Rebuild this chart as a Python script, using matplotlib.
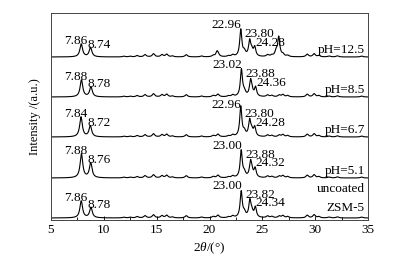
import numpy as np
import matplotlib
matplotlib.use("Agg")
import matplotlib.pyplot as plt
from matplotlib.ticker import MultipleLocator

plt.rcParams['font.family'] = ['Liberation Serif', 'DejaVu Serif']
plt.rcParams['mathtext.fontset'] = 'custom'
plt.rcParams['mathtext.it'] = 'Liberation Serif:italic'
plt.rcParams['mathtext.rm'] = 'Liberation Serif'

# ---- data ----
samples = ["pH=12.5", "pH=8.5", "pH=6.7", "pH=5.1", "ZSM-5"]
offsets = [163, 123, 83, 42, 2]

# labelled main peaks: positions (2theta) and heights (a.u.)
low_pos = [[7.86, 8.74], [7.88, 8.78], [7.84, 8.72], [7.88, 8.76], [7.86, 8.78]]
low_h = [[13, 9.5], [17, 10], [20, 11], [24, 15], [17, 10.5]]
high_pos = [[22.96, 23.80, 24.28], [23.02, 23.88, 24.36], [22.96, 23.80, 24.28],
            [23.00, 23.88, 24.32], [23.00, 23.82, 24.34]]
high_h = [[27, 15, 9], [27, 14, 9], [30, 15.5, 9], [27, 14, 9], [26, 16, 10]]

# minor peaks common to all traces
minor_pos = [13.15, 13.9, 14.7, 15.5, 15.95, 16.5, 17.8, 19.25, 20.35, 20.8,
             21.8, 22.2, 23.3, 24.0, 25.5, 25.9, 26.6, 26.95, 27.4, 29.25,
             29.9, 30.35, 31.3, 32.1, 34.4, 12.5, 11.9]
minor_h = [1.5, 2.5, 3.5, 2.5, 3, 1, 2.5, 1, 1.5, 3, 1, 2, 5, 6, 2, 1.5, 2, 2.5, 1.5,
           3, 3.5, 1.5, 1, 1.2, 1, 0.8, 0.8]
# extra peaks of the pH=12.5 sample
extra_pos = [20.7, 26.55, 26.3]
extra_h = [4, 18, 5]

labels_right = ["pH=12.5", "pH=8.5", "pH=6.7", "pH=5.1", "ZSM-5"]

x = np.linspace(5, 35, 3001)


def lor(x, c, h, w):
    return h / (1 + ((x - c) / (w / 2)) ** 2)


fig = plt.figure(figsize=(3.93, 2.67), dpi=100)
ax = fig.add_axes([51 / 393, 1 - 220 / 267, 317 / 393, 207 / 267])

fs = 9.5
for i, s in enumerate(samples):
    y = np.zeros_like(x)
    for p, h in zip(low_pos[i], low_h[i]):
        y += lor(x, p, h, 0.3)
    for p, h in zip(high_pos[i], high_h[i]):
        y += lor(x, p, h, 0.24)
    for p, h in zip(minor_pos, minor_h):
        y += lor(x, p, h * 0.9, 0.28)
    if i == 0:
        for p, h in zip(extra_pos, extra_h):
            y += lor(x, p, h, 0.24)
    base = offsets[i]
    ax.plot(x, y + base, color='black', lw=0.8)
    # labels of peaks
    ax.text(8.45, base + low_h[i][0] + 3, f"{low_pos[i][0]:.2f}",
            ha='right', va='center', fontsize=fs)
    ax.text(8.45, base + low_h[i][1] + 3, f"{low_pos[i][1]:.2f}",
            ha='left', va='center', fontsize=fs)
    ax.text(high_pos[i][0] - 1.35, base + 32, f"{high_pos[i][0]:.2f}",
            ha='center', va='center', fontsize=fs)
    ax.text(high_pos[i][1] - 0.45, base + 23, f"{high_pos[i][1]:.2f}",
            ha='left', va='center', fontsize=fs)
    ax.text(high_pos[i][2] + 0.05, base + 14.5, f"{high_pos[i][2]:.2f}",
            ha='left', va='center', fontsize=fs)
    if i < 4:
        ax.text(34.7, base + 7, labels_right[i], ha='right', va='center', fontsize=fs)
    else:
        ax.text(34.7, base + 29, "uncoated", ha='right', va='center', fontsize=fs)
        ax.text(34.7, base + 10, "ZSM-5", ha='right', va='center', fontsize=fs)

ax.set_xlim(5, 35)
ax.set_ylim(0, 207)
ax.set_yticks([])
ax.xaxis.set_major_locator(MultipleLocator(5))
ax.xaxis.set_minor_locator(MultipleLocator(2.5))
ax.tick_params(axis='x', which='both', direction='in', labelsize=9.5, pad=3)
ax.tick_params(axis='x', which='major', length=3, width=0.6)
ax.tick_params(axis='x', which='minor', length=2, width=0.6)
for sp in ax.spines.values():
    sp.set_linewidth(0.7)
    sp.set_color('#444444')
ax.set_xlabel(r"2$\it{\theta}$/(°)", fontsize=9.5, labelpad=3)
ax.set_ylabel("Intensity /(a.u.)", fontsize=9, labelpad=7)

fig.savefig("out.png", dpi=100)
